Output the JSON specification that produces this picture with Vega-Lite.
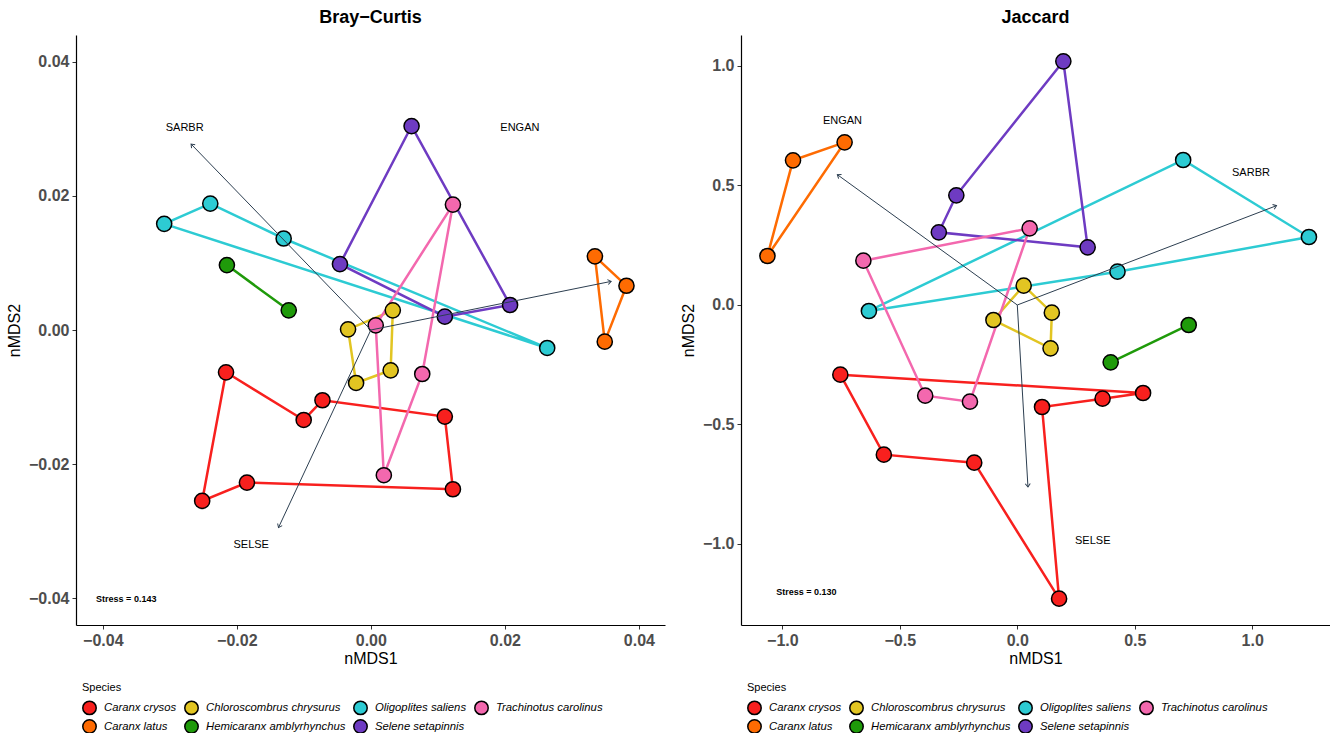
{
  "$schema": "https://vega.github.io/schema/vega-lite/v6.json",
  "padding": {"left": 6, "top": 9, "right": 0, "bottom": 0},
  "spacing": 15,
  "config": {
    "font": "Liberation Sans",
    "view": {"stroke": null},
    "axis": {"grid": false, "domainColor": "black", "domainWidth": 1.2, "tickColor": "#333333", "tickSize": 4, "tickWidth": 1, "labelFontSize": 16, "labelFontWeight": "bold", "labelColor": "#4D4D4D", "labelPadding": 3, "titleFontSize": 16, "titleFontWeight": "normal", "titleColor": "black"}
  },
  "datasets": {
    "bc": [
      {"sp": "Caranx crysos", "o": 1, "x": -0.02161, "y": -0.00631},
      {"sp": "Caranx crysos", "o": 2, "x": -0.01002, "y": -0.01342},
      {"sp": "Caranx crysos", "o": 3, "x": -0.00722, "y": -0.01048},
      {"sp": "Caranx crysos", "o": 4, "x": 0.01104, "y": -0.01292},
      {"sp": "Caranx crysos", "o": 5, "x": 0.01225, "y": -0.02375},
      {"sp": "Caranx crysos", "o": 6, "x": -0.01849, "y": -0.02276},
      {"sp": "Caranx crysos", "o": 7, "x": -0.02517, "y": -0.02549},
      {"sp": "Caranx latus", "o": 1, "x": 0.03344, "y": 0.01097},
      {"sp": "Caranx latus", "o": 2, "x": 0.03815, "y": 0.0066},
      {"sp": "Caranx latus", "o": 3, "x": 0.03491, "y": -0.00174},
      {"sp": "Chloroscombrus chrysurus", "o": 1, "x": -0.0034, "y": 0.0001},
      {"sp": "Chloroscombrus chrysurus", "o": 2, "x": 0.00328, "y": 0.00293},
      {"sp": "Chloroscombrus chrysurus", "o": 3, "x": 0.00296, "y": -0.00601},
      {"sp": "Chloroscombrus chrysurus", "o": 4, "x": -0.0022, "y": -0.0079},
      {"sp": "Hemicaranx amblyrhynchus", "o": 1, "x": -0.02148, "y": 0.00968},
      {"sp": "Hemicaranx amblyrhynchus", "o": 2, "x": -0.01225, "y": 0.00293},
      {"sp": "Oligoplites saliens", "o": 1, "x": -0.03084, "y": 0.01583},
      {"sp": "Oligoplites saliens", "o": 2, "x": -0.02396, "y": 0.01886},
      {"sp": "Oligoplites saliens", "o": 3, "x": -0.01301, "y": 0.01365},
      {"sp": "Oligoplites saliens", "o": 4, "x": 0.02632, "y": -0.00268},
      {"sp": "Selene setapinnis", "o": 1, "x": 0.00608, "y": 0.03042},
      {"sp": "Selene setapinnis", "o": 2, "x": -0.00461, "y": 0.00983},
      {"sp": "Selene setapinnis", "o": 3, "x": 0.01104, "y": 0.00199},
      {"sp": "Selene setapinnis", "o": 4, "x": 0.02078, "y": 0.00373},
      {"sp": "Trachinotus carolinus", "o": 1, "x": 0.01225, "y": 0.01871},
      {"sp": "Trachinotus carolinus", "o": 2, "x": 0.00073, "y": 0.0007},
      {"sp": "Trachinotus carolinus", "o": 3, "x": 0.00194, "y": -0.02166},
      {"sp": "Trachinotus carolinus", "o": 4, "x": 0.00767, "y": -0.00656}
    ],
    "jc": [
      {"sp": "Caranx crysos", "o": 1, "x": -0.7532, "y": -0.2915},
      {"sp": "Caranx crysos", "o": 2, "x": 0.5354, "y": -0.3682},
      {"sp": "Caranx crysos", "o": 3, "x": 0.363, "y": -0.3919},
      {"sp": "Caranx crysos", "o": 4, "x": 0.1053, "y": -0.4268},
      {"sp": "Caranx crysos", "o": 5, "x": 0.1779, "y": -1.2287},
      {"sp": "Caranx crysos", "o": 6, "x": -0.1833, "y": -0.6597},
      {"sp": "Caranx crysos", "o": 7, "x": -0.568, "y": -0.6262},
      {"sp": "Caranx latus", "o": 1, "x": -1.0635, "y": 0.205},
      {"sp": "Caranx latus", "o": 2, "x": -0.9546, "y": 0.6053},
      {"sp": "Caranx latus", "o": 3, "x": -0.735, "y": 0.6806},
      {"sp": "Chloroscombrus chrysurus", "o": 1, "x": 0.0272, "y": 0.0809},
      {"sp": "Chloroscombrus chrysurus", "o": 2, "x": 0.147, "y": -0.0321},
      {"sp": "Chloroscombrus chrysurus", "o": 3, "x": 0.1416, "y": -0.1813},
      {"sp": "Chloroscombrus chrysurus", "o": 4, "x": -0.1016, "y": -0.0628},
      {"sp": "Hemicaranx amblyrhynchus", "o": 1, "x": 0.3975, "y": -0.2399},
      {"sp": "Hemicaranx amblyrhynchus", "o": 2, "x": 0.7296, "y": -0.0837},
      {"sp": "Oligoplites saliens", "o": 1, "x": -0.6316, "y": -0.0251},
      {"sp": "Oligoplites saliens", "o": 2, "x": 0.706, "y": 0.6067},
      {"sp": "Oligoplites saliens", "o": 3, "x": 1.2414, "y": 0.2845},
      {"sp": "Oligoplites saliens", "o": 4, "x": 0.4265, "y": 0.1395},
      {"sp": "Selene setapinnis", "o": 1, "x": 0.196, "y": 1.0195},
      {"sp": "Selene setapinnis", "o": 2, "x": -0.2595, "y": 0.4589},
      {"sp": "Selene setapinnis", "o": 3, "x": -0.334, "y": 0.304},
      {"sp": "Selene setapinnis", "o": 4, "x": 0.2995, "y": 0.2413},
      {"sp": "Trachinotus carolinus", "o": 1, "x": -0.6552, "y": 0.1855},
      {"sp": "Trachinotus carolinus", "o": 2, "x": 0.0526, "y": 0.3208},
      {"sp": "Trachinotus carolinus", "o": 3, "x": -0.2015, "y": -0.4045},
      {"sp": "Trachinotus carolinus", "o": 4, "x": -0.392, "y": -0.3794}
    ],
    "bcv": [
      {"name": "SARBR", "x": -0.02683, "y": 0.02774, "lx": -0.02778, "ly": 0.03007},
      {"name": "ENGAN", "x": 0.03586, "y": 0.00725, "lx": 0.02224, "ly": 0.03007},
      {"name": "SELSE", "x": -0.01378, "y": -0.02947, "lx": -0.01785, "ly": -0.03205}
    ],
    "jcv": [
      {"name": "ENGAN", "x": -0.7659, "y": 0.5453, "lx": -0.744, "ly": 0.7699},
      {"name": "SARBR", "x": 1.1034, "y": 0.4156, "lx": 0.9946, "ly": 0.551},
      {"name": "SELSE", "x": 0.0454, "y": -0.7615, "lx": 0.3212, "ly": -0.9888}
    ],
    "bcs": [{"x": -0.0365, "y": -0.04005, "t": "Stress = 0.143"}],
    "jcs": [{"x": -0.898, "y": -1.2008, "t": "Stress = 0.130"}]
  },
  "resolve": {"scale": {"color": "independent", "stroke": "independent"}, "legend": {"color": "independent"}},
  "hconcat": [
    {
      "width": 589,
      "height": 590,
      "title": {"text": "Bray−Curtis", "fontSize": 18, "fontWeight": "bold", "color": "black", "anchor": "middle", "offset": 8},
      "layer": [
        {
          "data": {"name": "bc"},
          "mark": {"type": "line", "interpolate": "linear-closed", "strokeWidth": 2.5},
          "encoding": {
            "x": {"field": "x", "type": "quantitative", "scale": {"domain": [-0.044, 0.0439], "nice": false, "zero": false}, "axis": {"values": [-0.04, -0.02, 0, 0.02, 0.04], "format": ".2f", "title": "nMDS1", "titlePadding": 2}},
            "y": {"field": "y", "type": "quantitative", "scale": {"domain": [-0.044, 0.044], "nice": false, "zero": false}, "axis": {"values": [-0.04, -0.02, 0, 0.02, 0.04], "format": ".2f", "title": "nMDS2", "titlePadding": 6}},
            "stroke": {"field": "sp", "type": "nominal", "legend": null,
              "scale": {"domain": ["Caranx crysos", "Caranx latus", "Chloroscombrus chrysurus", "Hemicaranx amblyrhynchus", "Oligoplites saliens", "Selene setapinnis", "Trachinotus carolinus"], "range": ["#F8201E", "#FE6B02", "#E2C522", "#1F9A0A", "#2DCBD3", "#6E3BC2", "#F368AE"]}},
            "order": {"field": "o", "type": "quantitative"}
          }
        },
        {
          "data": {"name": "bc"},
          "mark": {"type": "point", "filled": true, "size": 230, "stroke": "black", "strokeWidth": 1.5, "opacity": 1},
          "encoding": {
            "x": {"field": "x", "type": "quantitative"},
            "y": {"field": "y", "type": "quantitative"},
            "color": {"field": "sp", "type": "nominal", "title": "Species",
              "scale": {"domain": ["Caranx crysos", "Chloroscombrus chrysurus", "Oligoplites saliens", "Trachinotus carolinus", "Caranx latus", "Hemicaranx amblyrhynchus", "Selene setapinnis"], "range": ["#F8201E", "#E2C522", "#2DCBD3", "#F368AE", "#FE6B02", "#1F9A0A", "#6E3BC2"]},
              "legend": {"orient": "bottom", "direction": "horizontal", "columns": 4, "titleFontSize": 11, "titleFontWeight": "normal", "titleColor": "black", "labelFontSize": 11.3, "labelFontStyle": "italic", "labelColor": "black", "symbolType": "circle", "symbolSize": 180, "symbolOpacity": 1, "symbolStrokeColor": "black", "symbolStrokeWidth": 1.5, "rowPadding": -2, "columnPadding": 4, "labelOffset": 7, "offset": 10, "padding": 6, "titlePadding": 7}}
          }
        },
        {
          "data": {"name": "bcv"},
          "mark": {"type": "rule", "color": "#2C3E50", "strokeWidth": 1},
          "encoding": {
            "x": {"field": "x", "type": "quantitative"},
            "y": {"field": "y", "type": "quantitative"},
            "x2": {"datum": 0},
            "y2": {"datum": 0}
          }
        },
        {
          "data": {"name": "bcv"},
          "transform": [{"calculate": "(atan2(datum.x, datum.y) * 180 / PI + 360) % 360", "as": "ang"}],
          "mark": {"type": "point", "shape": "M -0.6 0.8 L 0 0 L 0.6 0.8", "filled": false, "size": 70, "stroke": "#2C3E50", "strokeWidth": 1, "opacity": 1},
          "encoding": {
            "x": {"field": "x", "type": "quantitative"},
            "y": {"field": "y", "type": "quantitative"},
            "angle": {"field": "ang", "type": "quantitative", "scale": null}
          }
        },
        {
          "data": {"name": "bcv"},
          "mark": {"type": "text", "fontSize": 11, "color": "black"},
          "encoding": {
            "x": {"field": "lx", "type": "quantitative"},
            "y": {"field": "ly", "type": "quantitative"},
            "text": {"field": "name"}
          }
        },
        {
          "data": {"name": "bcs"},
          "mark": {"type": "text", "fontSize": 9, "fontWeight": "bold", "color": "black"},
          "encoding": {
            "x": {"field": "x", "type": "quantitative"},
            "y": {"field": "y", "type": "quantitative"},
            "text": {"field": "t"}
          }
        }
      ]
    },
    {
      "width": 589,
      "height": 590,
      "title": {"text": "Jaccard", "fontSize": 18, "fontWeight": "bold", "color": "black", "anchor": "middle", "offset": 8},
      "layer": [
        {
          "data": {"name": "jc"},
          "mark": {"type": "line", "interpolate": "linear-closed", "strokeWidth": 2.5},
          "encoding": {
            "x": {"field": "x", "type": "quantitative", "scale": {"domain": [-1.176, 1.331], "nice": false, "zero": false}, "axis": {"values": [-1, -0.5, 0, 0.5, 1], "format": ".1f", "title": "nMDS1", "titlePadding": 2}},
            "y": {"field": "y", "type": "quantitative", "scale": {"domain": [-1.339, 1.1297], "nice": false, "zero": false}, "axis": {"values": [-1, -0.5, 0, 0.5, 1], "format": ".1f", "title": "nMDS2", "titlePadding": 6}},
            "stroke": {"field": "sp", "type": "nominal", "legend": null,
              "scale": {"domain": ["Caranx crysos", "Caranx latus", "Chloroscombrus chrysurus", "Hemicaranx amblyrhynchus", "Oligoplites saliens", "Selene setapinnis", "Trachinotus carolinus"], "range": ["#F8201E", "#FE6B02", "#E2C522", "#1F9A0A", "#2DCBD3", "#6E3BC2", "#F368AE"]}},
            "order": {"field": "o", "type": "quantitative"}
          }
        },
        {
          "data": {"name": "jc"},
          "mark": {"type": "point", "filled": true, "size": 230, "stroke": "black", "strokeWidth": 1.5, "opacity": 1},
          "encoding": {
            "x": {"field": "x", "type": "quantitative"},
            "y": {"field": "y", "type": "quantitative"},
            "color": {"field": "sp", "type": "nominal", "title": "Species",
              "scale": {"domain": ["Caranx crysos", "Chloroscombrus chrysurus", "Oligoplites saliens", "Trachinotus carolinus", "Caranx latus", "Hemicaranx amblyrhynchus", "Selene setapinnis"], "range": ["#F8201E", "#E2C522", "#2DCBD3", "#F368AE", "#FE6B02", "#1F9A0A", "#6E3BC2"]},
              "legend": {"orient": "bottom", "direction": "horizontal", "columns": 4, "titleFontSize": 11, "titleFontWeight": "normal", "titleColor": "black", "labelFontSize": 11.3, "labelFontStyle": "italic", "labelColor": "black", "symbolType": "circle", "symbolSize": 180, "symbolOpacity": 1, "symbolStrokeColor": "black", "symbolStrokeWidth": 1.5, "rowPadding": -2, "columnPadding": 4, "labelOffset": 7, "offset": 10, "padding": 6, "titlePadding": 7}}
          }
        },
        {
          "data": {"name": "jcv"},
          "mark": {"type": "rule", "color": "#2C3E50", "strokeWidth": 1},
          "encoding": {
            "x": {"field": "x", "type": "quantitative"},
            "y": {"field": "y", "type": "quantitative"},
            "x2": {"datum": 0},
            "y2": {"datum": 0}
          }
        },
        {
          "data": {"name": "jcv"},
          "transform": [{"calculate": "(atan2(datum.x, datum.y) * 180 / PI + 360) % 360", "as": "ang"}],
          "mark": {"type": "point", "shape": "M -0.6 0.8 L 0 0 L 0.6 0.8", "filled": false, "size": 70, "stroke": "#2C3E50", "strokeWidth": 1, "opacity": 1},
          "encoding": {
            "x": {"field": "x", "type": "quantitative"},
            "y": {"field": "y", "type": "quantitative"},
            "angle": {"field": "ang", "type": "quantitative", "scale": null}
          }
        },
        {
          "data": {"name": "jcv"},
          "mark": {"type": "text", "fontSize": 11, "color": "black"},
          "encoding": {
            "x": {"field": "lx", "type": "quantitative"},
            "y": {"field": "ly", "type": "quantitative"},
            "text": {"field": "name"}
          }
        },
        {
          "data": {"name": "jcs"},
          "mark": {"type": "text", "fontSize": 9, "fontWeight": "bold", "color": "black"},
          "encoding": {
            "x": {"field": "x", "type": "quantitative"},
            "y": {"field": "y", "type": "quantitative"},
            "text": {"field": "t"}
          }
        }
      ]
    }
  ]
}
